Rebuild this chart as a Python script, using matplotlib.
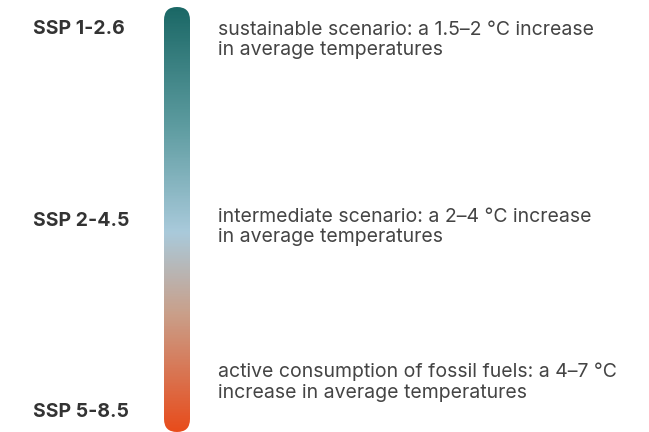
import matplotlib.pyplot as plt
import numpy as np
from matplotlib.colors import LinearSegmentedColormap
from matplotlib.patches import FancyBboxPatch

plt.rcParams['font.family'] = ['Inter', 'DejaVu Sans']

# scenario labels and their descriptions
scenarios = ['SSP 1-2.6', 'SSP 2-4.5', 'SSP 5-8.5']
descriptions = [
    'sustainable scenario: a 1.5–2 °C increase\nin average temperatures',
    'intermediate scenario: a 2–4 °C increase\nin average temperatures',
    'active consumption of fossil fuels: a 4–7 °C\nincrease in average temperatures',
]
# gradient stops along the bar (0 = top, 1 = bottom)
stop_pos = [0.0, 0.27, 0.53, 0.72, 1.0]
stop_colors = ['#1b6866', '#5b9a9e', '#a9cadb', '#c9a08b', '#e84c1c']

W, H = 649, 432
fig = plt.figure(figsize=(W / 100, H / 100), dpi=100)
ax = fig.add_axes([0, 0, 1, 1])
ax.set_xlim(0, W)
ax.set_ylim(H, 0)
ax.axis('off')

# the bar
bx0, bx1, by0, by1 = 164, 190, 7, 432
cmap = LinearSegmentedColormap.from_list('ssp', list(zip(stop_pos, stop_colors)))
grad = np.linspace(0, 1, 400).reshape(-1, 1)
im = ax.imshow(grad, cmap=cmap, extent=(bx0, bx1, by1, by0), aspect='auto', zorder=1)
r = (bx1 - bx0) / 2
clip = FancyBboxPatch((bx0 + r, by0 + r), (bx1 - bx0) - 2 * r, (by1 - by0) - 2 * r,
                      boxstyle=f'round,pad={r}', transform=ax.transData,
                      facecolor='none', edgecolor='none')
ax.add_patch(clip)
im.set_clip_path(clip)
ax.set_xlim(0, W)
ax.set_ylim(H, 0)

label_y = [29, 221, 412]
desc_y = [40, 227, 382]
for name, ly in zip(scenarios, label_y):
    ax.text(33, ly, name, fontsize=14, fontweight='bold', color='#333333',
            va='center', ha='left')
for d, dy in zip(descriptions, desc_y):
    ax.text(218, dy, d, fontsize=14, color='#444444', va='center', ha='left',
            linespacing=1.2)

fig.savefig('out.png', dpi=100)
